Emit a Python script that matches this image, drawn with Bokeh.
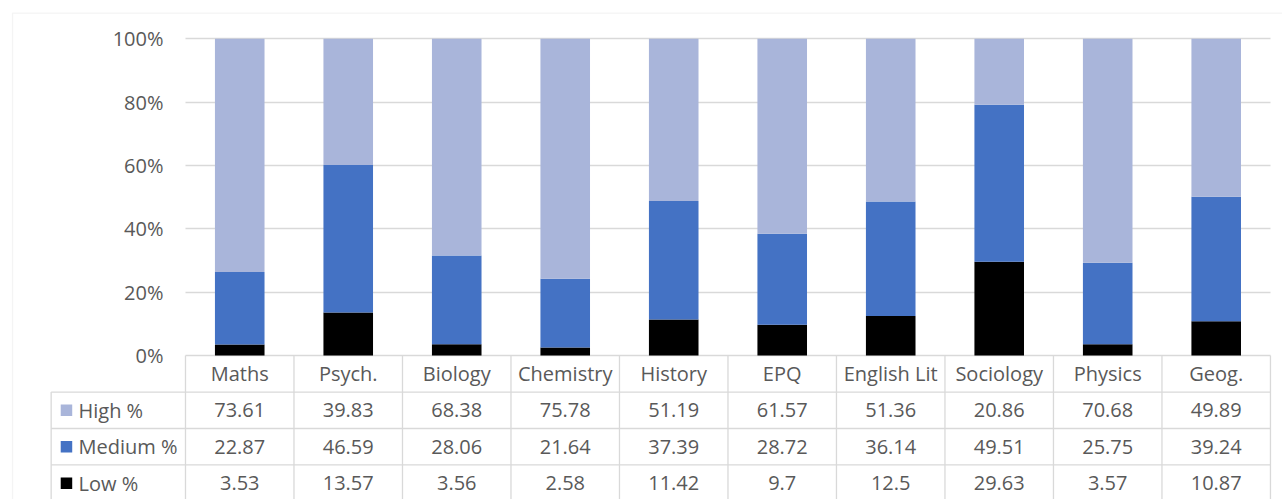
from bokeh.plotting import figure
from bokeh.models import Range1d, FixedTicker, LinearAxis, ColumnDataSource, BoxAnnotation, Grid, PrintfTickFormatter
from bokeh.core.properties import value
from bokeh.embed import file_html
from bokeh.resources import INLINE

# ---- data ----
subjects = ["Maths", "Psych.", "Biology", "Chemistry", "History", "EPQ",
            "English Lit", "Sociology", "Physics", "Geog."]
high = [73.61, 39.83, 68.38, 75.78, 51.19, 61.57, 51.36, 20.86, 70.68, 49.89]
medium = [22.87, 46.59, 28.06, 21.64, 37.39, 28.72, 36.14, 49.51, 25.75, 39.24]
low = [3.53, 13.57, 3.56, 2.58, 11.42, 9.7, 12.5, 29.63, 3.57, 10.87]
series_names = ["High %", "Medium %", "Low %"]
y_ticks = [0, 20, 40, 60, 80, 100]

# ---- style ----
colors = {"High %": "#A9B5DA", "Medium %": "#4472C4", "Low %": "#000000"}
FONT = "Open Sans"
FS = "20px"
TXT = "#595959"
LINE = "#D9D9D9"

n = len(subjects)
row_h = 11.51          # table row height in y units
legend_left = -1.238   # table legend column left edge (x units)

p = figure(width=1282, height=499,
           x_range=Range1d(-1.705, 10.111), y_range=Range1d(-45.43, 112.08),
           x_axis_type=None, y_axis_type=None,
           output_backend="svg", toolbar_location=None, min_border=0)
p.outline_line_color = None
p.background_fill_color = "white"
p.border_fill_color = "white"

# outer chart border
p.add_layout(BoxAnnotation(left=-1.594, top=108.1, right=30, bottom=-200,
                           fill_color=None, line_color=LINE, line_width=1.3))

# grid lines restricted to plot area
grid = Grid(dimension=1, ticker=FixedTicker(ticks=y_ticks), cross_bounds=(0, n),
            grid_line_color=LINE, grid_line_width=1.3)
p.add_layout(grid)

# y axis
yaxis = LinearAxis(fixed_location=0, ticker=FixedTicker(ticks=y_ticks),
                   formatter=PrintfTickFormatter(format="%d%%"))
yaxis.axis_line_color = None
yaxis.major_tick_line_color = None
yaxis.minor_tick_line_color = None
yaxis.major_tick_out = 0
yaxis.major_tick_in = 0
yaxis.major_label_standoff = 22
yaxis.major_label_text_font = FONT
yaxis.major_label_text_font_size = FS
yaxis.major_label_text_color = TXT
p.add_layout(yaxis, "left")

# stacked 100% bars (Low bottom, Medium, High top)
xs = [i + 0.5 for i in range(n)]
totals = [h + m + l for h, m, l in zip(high, medium, low)]
stack_order = [("Low %", low), ("Medium %", medium), ("High %", high)]
cum = [0.0] * n
for name, vals in stack_order:
    bottoms = [c / t * 100 for c, t in zip(cum, totals)]
    cum = [c + v for c, v in zip(cum, vals)]
    tops = [c / t * 100 for c, t in zip(cum, totals)]
    src = ColumnDataSource(dict(x=xs, bottom=bottoms, top=tops))
    p.vbar(x="x", bottom="bottom", top="top", width=0.457, source=src,
           fill_color=colors[name], line_color=None)

# data table lines
n_rows = 4
bottom_y = -row_h * (n_rows + 0.5)
hx0, hx1, hy = [], [], []
for k in range(1, n_rows + 1):
    hx0.append(legend_left); hx1.append(n); hy.append(-row_h * k)
p.segment(x0=hx0, x1=hx1, y0=hy, y1=hy, line_color=LINE, line_width=1.3)
vx = list(range(n + 1))
p.segment(x0=vx, x1=vx, y0=[0] * len(vx), y1=[bottom_y] * len(vx),
          line_color=LINE, line_width=1.3)
p.segment(x0=[legend_left], x1=[legend_left], y0=[-row_h], y1=[bottom_y],
          line_color=LINE, line_width=1.3)

# header row (categories)
p.text(x=xs, y=[-row_h / 2] * n, text=subjects, text_align="center",
       text_baseline="middle", text_font=value(FONT), text_font_size=FS,
       text_color=TXT)

# value rows
table_vals = {"High %": high, "Medium %": medium, "Low %": low}
for r, name in enumerate(series_names):
    yc = -row_h * (r + 1.5)
    vals = table_vals[name]
    p.text(x=xs, y=[yc] * n, text=[f"{v:g}" for v in vals], text_align="center",
           text_baseline="middle", text_font=value(FONT), text_font_size=FS,
           text_color=TXT)
    p.scatter(x=[-1.097], y=[yc], marker="square", size=11.5,
              fill_color=colors[name], line_color=None)
    p.text(x=[-0.986], y=[yc], text=[name], text_align="left",
           text_baseline="middle", text_font=value(FONT), text_font_size=FS,
           text_color=TXT)

open("out.html", "w").write(file_html(p, INLINE))
